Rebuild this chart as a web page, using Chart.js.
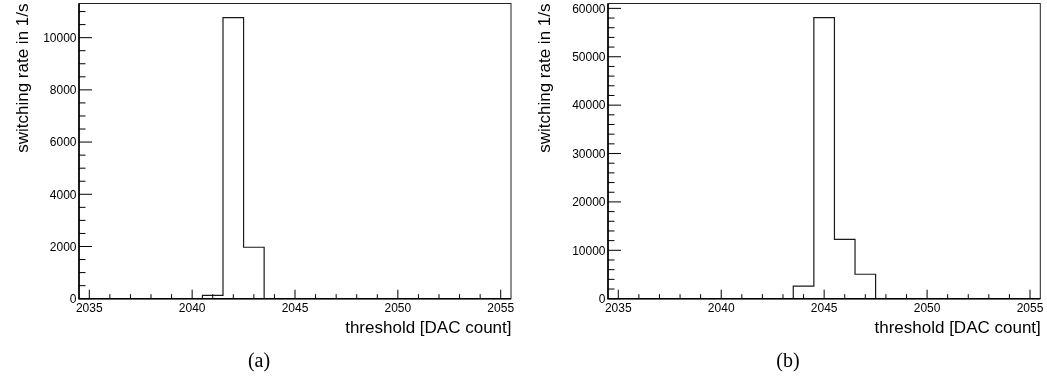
<!DOCTYPE html>
<html>
<head>
<meta charset="utf-8">
<title>switching rate vs threshold</title>
<script src="https://cdn.jsdelivr.net/npm/chart.js@4.4.0/dist/chart.umd.min.js"></script>
<style>
  body { margin: 0; background: #fff; width: 1047px; height: 383px; position: relative; overflow: hidden; }
  .panel { position: absolute; top: 0; }
  .caption { position: absolute; top: 350px; line-height: 20px; font-family: "Liberation Serif", "Times New Roman", serif; font-size: 20px; color: #000; transform: translateX(-50%); }
</style>
</head>
<body>
<div class="panel" style="left:0"><canvas id="histA" width="524" height="383"></canvas></div>
<div class="panel" style="left:524px"><canvas id="histB" width="523" height="383"></canvas></div>
<div class="caption" style="left:259px">(a)</div>
<div class="caption" style="left:788px">(b)</div>

<script>
// bin centres (DAC counts)
const thresholds = [2035, 2036, 2037, 2038, 2039, 2040, 2041, 2042, 2043, 2044, 2045,
                    2046, 2047, 2048, 2049, 2050, 2051, 2052, 2053, 2054, 2055];

// switching rate per bin, 1/s
const rateA = [0, 0, 0, 0, 0, 0, 130, 10770, 1970, 0, 0,
               0, 0, 0, 0, 0, 0, 0, 0, 0, 0];
const rateB = [0, 0, 0, 0, 0, 0, 0, 0, 0, 2590, 58100,
               12240, 5050, 0, 0, 0, 0, 0, 0, 0, 0];

const xTickLabels = ['2035', '2040', '2045', '2050', '2055'];
const yTickLabelsA = ['0', '2000', '4000', '6000', '8000', '10000'];
const yTickLabelsB = ['0', '10000', '20000', '30000', '40000', '50000', '60000'];

const xTitle = 'threshold [DAC count]';
const yTitle = 'switching rate in 1/s';

// histogram outline: one point per left bin edge, plus the last right edge
function stepPoints(values) {
    const pts = thresholds.map((t, i) => ({ x: t - 0.5, y: values[i] }));
    pts.push({ x: thresholds[thresholds.length - 1] + 0.5, y: values[values.length - 1] });
    return pts;
}

// frame, inside ticks and labels drawn in the usual ROOT look
const rootAxes = {
    id: 'rootAxes',
    afterDatasetsDraw(chart, args, opts) {
        const { ctx, chartArea: a } = chart;
        const x = chart.scales.x, y = chart.scales.y;
        ctx.save();

        ctx.strokeStyle = '#222';
        ctx.lineWidth = 1;
        ctx.strokeRect(a.left, a.top, a.right - a.left, a.bottom - a.top);

        ctx.strokeStyle = '#000';
        ctx.lineWidth = 1.6;
        ctx.beginPath();
        ctx.moveTo(a.left, a.top);
        ctx.lineTo(a.left, a.bottom);
        ctx.lineTo(a.right, a.bottom);
        ctx.stroke();

        // x ticks: every count, longer every 5
        ctx.lineWidth = 1;
        ctx.beginPath();
        for (let v = Math.ceil(x.min); v <= x.max; v++) {
            const px = x.getPixelForValue(v);
            const len = v % 5 === 0 ? 9 : 4.5;
            ctx.moveTo(px, a.bottom);
            ctx.lineTo(px, a.bottom - len);
        }
        // y ticks
        for (let v = 0; v <= y.max; v += opts.yMinor) {
            const py = y.getPixelForValue(v);
            const len = v % opts.yMajor === 0 ? 13 : 6.5;
            ctx.moveTo(a.left, py);
            ctx.lineTo(a.left + len, py);
        }
        ctx.stroke();

        ctx.fillStyle = '#000';
        ctx.font = '12px "Liberation Sans", Arial, sans-serif';
        ctx.textBaseline = 'alphabetic';
        ctx.textAlign = 'center';
        xTickLabels.forEach(t => {
            ctx.fillText(t, x.getPixelForValue(Number(t)), a.bottom + 13.5);
        });
        ctx.textAlign = 'right';
        opts.yLabels.forEach(t => {
            ctx.fillText(t, a.left - 2.5, y.getPixelForValue(Number(t)) + 4.3);
        });

        ctx.font = '17px "Liberation Sans", Arial, sans-serif';
        ctx.textAlign = 'right';
        ctx.fillText(xTitle, a.right + 0.5, a.bottom + 34);

        ctx.translate(opts.yTitleX, a.top);
        ctx.rotate(-Math.PI / 2);
        ctx.fillText(yTitle, 0, 0);
        ctx.restore();
    }
};

function makeHist(id, values, yLabels, yMajor, yMinor, pad, yTitleX) {
    const peak = Math.max(...values);
    return new Chart(document.getElementById(id), {
        type: 'line',
        data: {
            datasets: [{
                data: stepPoints(values),
                stepped: true,
                borderColor: '#1a1a1a',
                borderWidth: 1.2,
                pointRadius: 0,
                fill: false
            }]
        },
        options: {
            responsive: false,
            animation: false,
            layout: { padding: pad },
            plugins: {
                legend: { display: false },
                tooltip: { enabled: false },
                rootAxes: { yLabels: yLabels, yMajor: yMajor, yMinor: yMinor, yTitleX: yTitleX }
            },
            scales: {
                x: { type: 'linear', display: false, min: 2034.5, max: 2055.5 },
                y: { type: 'linear', display: false, min: 0, max: peak * 1.05 }
            }
        },
        plugins: [rootAxes]
    });
}

makeHist('histA', rateA, yTickLabelsA, 2000, 500,
         { left: 79, right: 13, top: 3.5, bottom: 84.3 }, 28);
makeHist('histB', rateB, yTickLabelsB, 10000, 2000,
         { left: 84, right: 6.7, top: 3.5, bottom: 84.3 }, 25.5);
</script>
</body>
</html>
